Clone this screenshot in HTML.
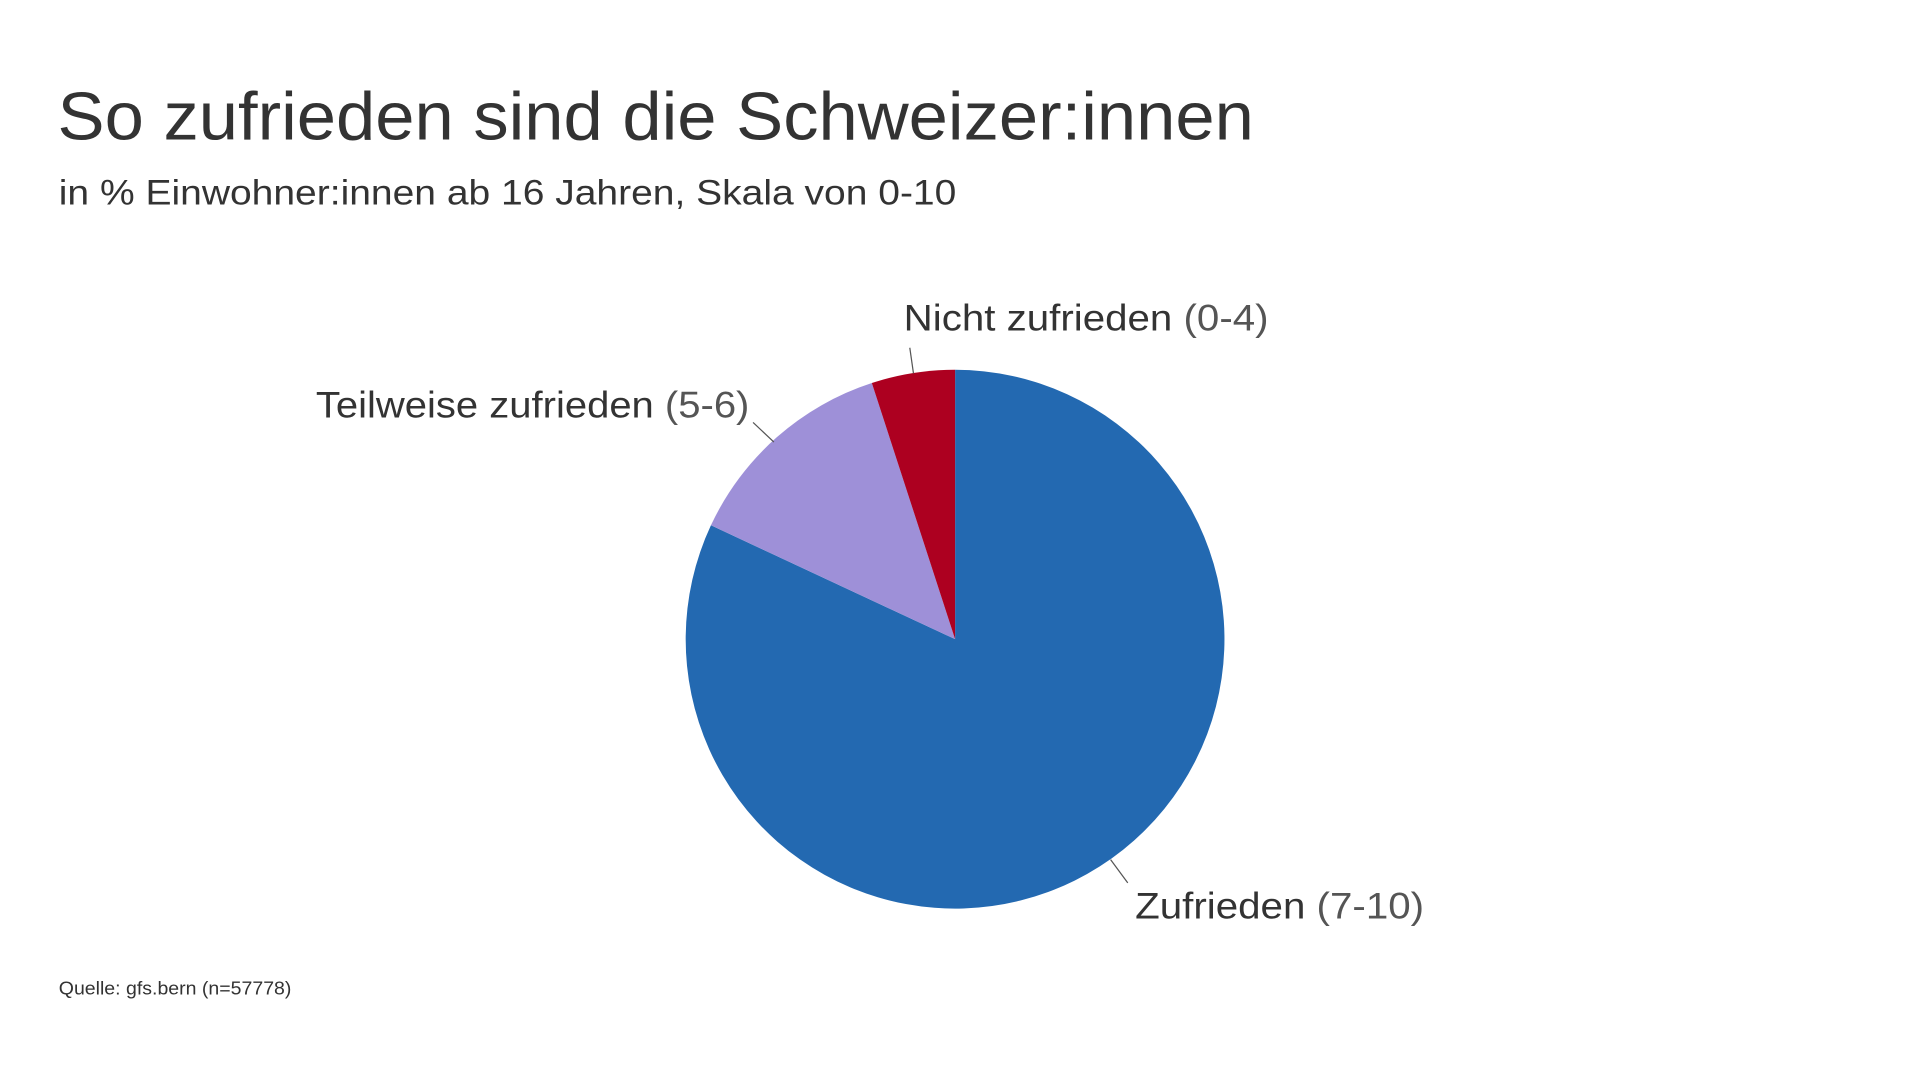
<!DOCTYPE html>
<html><head><meta charset="utf-8"><style>
html,body{margin:0;padding:0;background:#fff;}
svg{display:block;}
text{font-family:"Liberation Sans",sans-serif;fill:#333;}
</style></head><body>
<svg width="1920" height="1080" viewBox="0 0 1568 882" xmlns="http://www.w3.org/2000/svg">
<rect width="1568" height="882" fill="#fff"/>
<text x="47" y="114" font-size="55" textLength="977" lengthAdjust="spacingAndGlyphs">So zufrieden sind die Schweizer:innen</text>
<text x="48" y="167" font-size="29" fill="#444" textLength="733" lengthAdjust="spacingAndGlyphs">in % Einwohner:innen ab 16 Jahren, Skala von 0-10</text>
<path d="M780,522 L780,302 A220,220 0 1 1 580.6,429 Z" fill="#2369b1"/>
<path d="M780,522 L580.6,429 A220,220 0 0 1 712,312.8 Z" fill="#9e90d8"/>
<path d="M780,522 L712,312.8 A220,220 0 0 1 780,302 Z" fill="#ad0020"/>
<g stroke="#555" stroke-width="1">
<line x1="743" y1="284" x2="746" y2="305"/>
<line x1="615" y1="345" x2="632" y2="361"/>
<line x1="907" y1="702" x2="921" y2="721"/>
</g>
<text x="738" y="270" font-size="30" textLength="298" lengthAdjust="spacingAndGlyphs">Nicht zufrieden <tspan fill="#555">(0-4)</tspan></text>
<text x="258" y="341" font-size="30" textLength="354" lengthAdjust="spacingAndGlyphs">Teilweise zufrieden <tspan fill="#555">(5-6)</tspan></text>
<text x="927" y="750" font-size="30" textLength="236" lengthAdjust="spacingAndGlyphs">Zufrieden <tspan fill="#555">(7-10)</tspan></text>
<text x="48" y="812" font-size="15" fill="#444" textLength="190" lengthAdjust="spacingAndGlyphs">Quelle: gfs.bern (n=57778)</text>
</svg>
</body></html>
